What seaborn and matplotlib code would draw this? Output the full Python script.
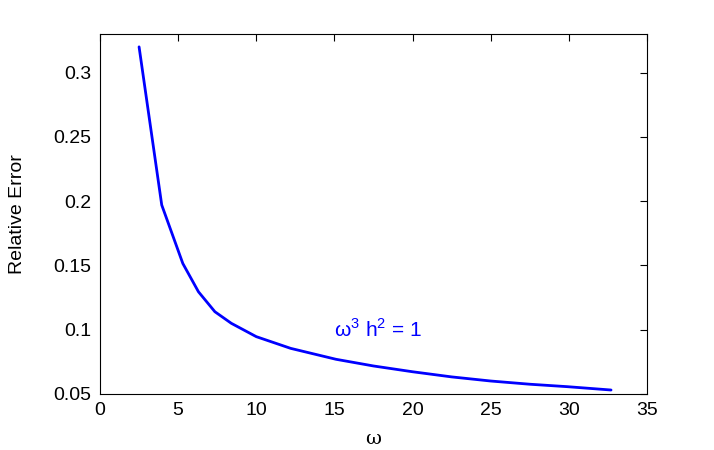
import matplotlib
matplotlib.use("Agg")
import matplotlib.pyplot as plt
import seaborn as sns
import pandas as pd

# values
omega = [2.5, 3.95, 5.3, 6.3, 7.35, 8.4, 10.0, 12.2, 15.1, 17.5, 20.0, 22.5, 25.0, 27.5, 29.9, 32.7]
rel_error = [0.320, 0.197, 0.1515, 0.1295, 0.114, 0.105, 0.0946, 0.0855, 0.0770, 0.0718,
             0.0673, 0.0633, 0.0601, 0.0576, 0.0557, 0.0531]
xticks = [0, 5, 10, 15, 20, 25, 30, 35]
yticks = [0.05, 0.1, 0.15, 0.2, 0.25, 0.3]
ytick_labels = ["0.05", "0.1", "0.15", "0.2", "0.25", "0.3"]

sns.set_style("white")
plt.rcParams['font.family'] = ['Liberation Sans', 'DejaVu Sans']
plt.rcParams['mathtext.fontset'] = 'custom'
plt.rcParams['mathtext.rm'] = 'Liberation Sans'

df = pd.DataFrame({"omega": omega, "err": rel_error})

fig = plt.figure(figsize=(7.14, 4.5), dpi=100)
ax = fig.add_axes([100 / 714, 1 - 394 / 450, 547 / 714, 360 / 450])

sns.lineplot(data=df, x="omega", y="err", ax=ax, color="#0000ff", linewidth=2)

ax.set_xlim(0, 35)
ax.set_ylim(0.05, 0.33)
ax.set_xticks(xticks)
ax.set_yticks(yticks)
ax.set_yticklabels(ytick_labels)
ax.tick_params(direction="in", length=5, width=0.8, top=True, right=True,
               labelsize=14, colors="black", pad=6)
for s in ax.spines.values():
    s.set_visible(True)
    s.set_color("black")
    s.set_linewidth(0.8)

ax.set_xlabel("ω", fontsize=14, family="DejaVu Serif", labelpad=8, color="black")
ax.set_ylabel("Relative Error", fontsize=14, labelpad=20, color="black")

ax.text(15, 0.1, r"ω$^{3}$ h$^{2}$ = 1", color="#0000ff", fontsize=15,
        ha="left", va="center")

fig.savefig("out.png", dpi=100)
